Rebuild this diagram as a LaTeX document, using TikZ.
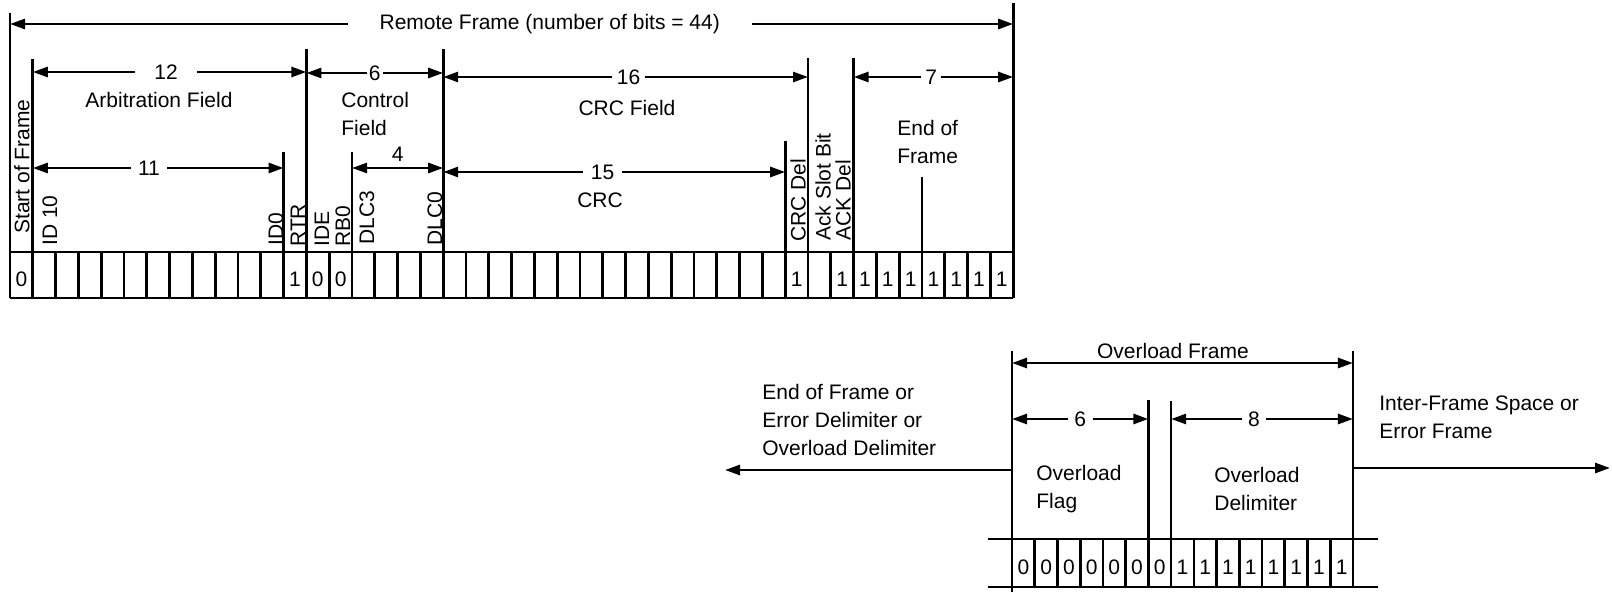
\documentclass[tikz,border=0pt]{standalone}
\usepackage{fontspec}
\setmainfont{Liberation Sans}
\usetikzlibrary{arrows.meta,positioning}

\begin{document}
\begin{tikzpicture}[
    x=0.5pt, y=-0.5pt,
    line width=1.35pt,
    font=\fontsize{10.5}{14}\selectfont,
    >={Triangle[length=7.5pt,width=5pt]},
    dim/.style={<->},
    exitarrow/.style={->},
    gap/.style={fill=white, inner ysep=0pt, inner xsep=#1},
    gap/.default=2pt,
    fieldlbl/.style={rotate=90, anchor=west, inner sep=0pt},
    bitval/.style={inner sep=0pt},
    fieldtxt/.style={align=left, anchor=west, inner sep=0pt},
    heading/.style={align=center, inner sep=0pt}
]
\useasboundingbox (0,0) rectangle (1612,593);

% remote frame, 44 bits
\foreach \k in {0,...,44}
  \coordinate (t\k) at (10+22.8*\k,252);
\draw (t0) -- (t44);
\draw (t0 |- 0,298) -- (t44 |- 0,298);
\foreach \k in {0,...,44}
  \draw (t\k) -- (t\k |- 0,298);
\foreach \k/\ya in {0/13,1/59,12/152,13/49,15/152,19/49,34/141,35/58,37/58,40/177,44/3}
  \draw (t\k) -- (t\k |- 0,\ya);

\draw[dim] (t0 |- 0,24) -- node[gap=16pt, pos=0.538] (title) {Remote Frame (number of bits = 44)} (t44 |- 0,24);
\draw[dim] (t1 |- 0,72) -- node[gap=9.75pt, pos=0.487] (arbnum) {12} (t13 |- 0,72);
\draw[dim] (t1 |- 0,168) -- node[gap=3.75pt, pos=0.463] (idnum) {11} (t12 |- 0,168);
\draw[dim] (t13 |- 0,73) -- node[gap=1pt] (ctrlnum) {6} (t19 |- 0,73);
\draw[dim] (t15 |- 0,168) -- node[above=2.5pt, inner sep=0pt] (dlcnum) {4} (t19 |- 0,168);
\draw[dim] (t19 |- 0,77) -- node[gap=2.5pt, pos=0.508] (crcfnum) {16} (t35 |- 0,77);
\draw[dim] (t19 |- 0,172) -- node[gap=4pt, pos=0.466] (crcnum) {15} (t34 |- 0,172);
\draw[dim] (t37 |- 0,77) -- node[gap=2pt, pos=0.486] (eofnum) {7} (t44 |- 0,77);

\node[heading] (arbtxt) at (159,100) {Arbitration Field};
\node[fieldtxt] (ctrltxt) at (340,114) {Control\\Field};
\node[heading] (crcftxt) at (627,108) {CRC Field};
\node[heading] (crctxt) at (600,200) {CRC};
\node[fieldtxt] (eoftxt) at (896,142) {End of\\Frame};

\foreach \x/\yb/\lbl [count=\i] in {22/235/Start of Frame, 50/247/ID 10, 276/247/ID0, 298/248/RTR,
    322/248/IDE, 343/248/RB0, 367/246/DLC3, 435/247/DLC0, 798/243/CRC Del,
    823/242/Ack Slot Bit, 843/242/ACK Del}
  \node[fieldlbl] (lbl\i) at (\x,\yb) {\lbl};

\foreach \k/\v in {0/0,12/1,13/0,14/0,34/1,36/1,37/1,38/1,39/1,40/1,41/1,42/1,43/1}
  \node[bitval] (bit\k) at (21.4+22.8*\k,279) {\v};

% overload frame, 15 bits
\foreach \j in {0,...,15}
  \coordinate (o\j) at (1012+22.73*\j,539);
\coordinate (rowleft) at (988,539);
\coordinate (rowright) at (1378,539);
\draw (rowleft) -- (rowright);
\draw (rowleft |- 0,587) -- (rowright |- 0,587);
\foreach \j in {0,...,15}
  \draw (o\j) -- (o\j |- 0,587);
\foreach \j/\ya/\yb in {0/351/592,6/400/539,7/401/539,15/351/539}
  \draw (o\j |- 0,\yb) -- (o\j |- 0,\ya);

\draw[dim] (o0 |- 0,363) -- node[above=1.5pt, inner sep=0pt, pos=0.472] (oftxt) {Overload Frame} (o15 |- 0,363);
\draw[dim] (o0 |- 0,419) -- node[gap=3.3pt] (flagnum) {6} (o6 |- 0,419);
\draw[dim] (o7 |- 0,419) -- node[gap=3pt, pos=0.456] (delimnum) {8} (o15 |- 0,419);

\coordinate (lefttip) at (725,470);
\coordinate (righttip) at (1610,468);
\draw[exitarrow] (o0 |- lefttip) -- (lefttip);
\draw[exitarrow] (o15 |- righttip) -- (righttip);

\node[fieldtxt] (prevtxt) at (761,420) {End of Frame or\\Error Delimiter or\\Overload Delimiter};
\node[fieldtxt] (nexttxt) at (1378,417) {Inter-Frame Space or\\Error Frame};
\node[fieldtxt] (flagtxt) at (1035,489) {Overload\\Flag};
\node[fieldtxt] (delimtxt) at (1213,489) {Overload\\Delimiter};

\foreach \j in {0,...,14} {
  \pgfmathtruncatemacro{\v}{\j>6}
  \node[bitval] (obit\j) at (1023.4+22.73*\j,567) {\v};
}
\end{tikzpicture}
\end{document}
